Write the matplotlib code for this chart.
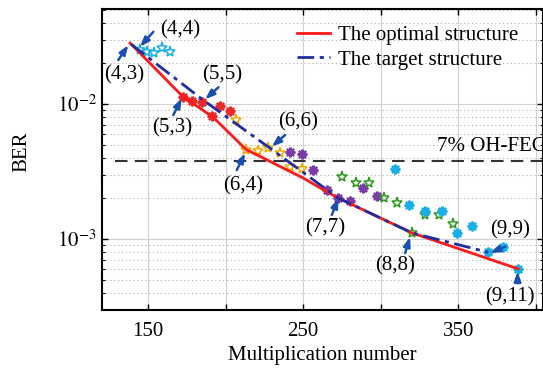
import matplotlib
matplotlib.use("Agg")
import matplotlib.pyplot as plt
import numpy as np

plt.rcParams['font.family'] = ['Liberation Serif', 'DejaVu Serif']
plt.rcParams['mathtext.fontset'] = 'stix'

# ---- data ----
opt_x = [138.4, 172.6, 191.9, 213.2, 226.8, 239.7, 250.0, 261.0, 272.6, 320.3, 388.7]
opt_y = [2.83e-2, 1.13e-2, 8.0e-3, 4.6e-3, 3.85e-3, 3.24e-3, 2.83e-3, 2.39e-3, 2.01e-3, 1.107e-3, 6.0e-4]

tgt_x = [139.0, 185.5, 228.7, 272.6, 320.3, 369.4]
tgt_y = [2.78e-2, 1.07e-2, 4.70e-3, 2.01e-3, 1.107e-3, 7.96e-4]

m4_x = [144.8, 149.4, 153.9, 159.0, 164.2]
m4_y = [2.51e-2, 2.41e-2, 2.39e-2, 2.60e-2, 2.44e-2]

m5_x = [172.6, 178.4, 184.8, 191.3, 196.5, 202.9]
m5_y = [1.13e-2, 1.05e-2, 1.03e-2, 8.15e-3, 9.67e-3, 8.87e-3]

m6_x = [206.8, 213.2, 221.0, 227.4, 235.2, 241.6, 249.4]
m6_y = [7.60e-3, 4.60e-3, 4.49e-3, 4.68e-3, 4.34e-3, 3.39e-3, 3.30e-3]

m7_x = [241.6, 249.4, 256.5, 265.5, 272.6, 280.3, 288.7, 297.7]
m7_y = [4.41e-3, 4.26e-3, 3.22e-3, 2.31e-3, 2.01e-3, 1.90e-3, 2.37e-3, 2.08e-3]

m8_x = [275.2, 284.2, 292.6, 302.3, 310.6, 328.7, 337.7, 346.8, 320.3]
m8_y = [2.89e-3, 2.61e-3, 2.59e-3, 2.00e-3, 1.86e-3, 1.51e-3, 1.51e-3, 1.30e-3, 1.107e-3]

m9_x = [309.4, 318.4, 328.7, 339.7, 349.4, 359.0, 369.4, 379.0, 388.7]
m9_y = [3.28e-3, 1.79e-3, 1.60e-3, 1.61e-3, 1.10e-3, 1.25e-3, 7.96e-4, 8.73e-4, 6.0e-4]

fec_level = 3.8e-3
fec_label = "7% OH-FEC"

# annotations: label, text position, arrow tail, arrow head (data coords)
ann_labels = ["(4,4)", "(4,3)", "(5,5)", "(5,3)", "(6,6)", "(6,4)", "(7,7)", "(8,8)", "(9,9)", "(9,11)"]
ann_text = [(170.6, 3.53e-2), (134.5, 1.64e-2), (197.5, 1.64e-2), (165.8, 6.6e-3), (246.5, 7.39e-3),
            (211.6, 2.47e-3), (264.2, 1.21e-3), (309.4, 6.31e-4), (383.5, 1.17e-3), (383.5, 3.74e-4)]
ann_tail = [(153.4, 3.43e-2), (130.8, 2.12e-2), (195.4, 1.33e-2), (166.3, 8.29e-3), (238.4, 5.89e-3),
            (207.2, 3.24e-3), (268.5, 1.507e-3), (315.8, 7.87e-4), (380.3, 8.77e-4), (388.3, 4.7e-4)]
ann_head = [(144.8, 2.656e-2), (137.3, 2.735e-2), (186.8, 1.083e-2), (171.7, 1.102e-2), (229.8, 4.83e-3),
            (212.6, 4.32e-3), (272.8, 2.0e-3), (319.0, 1.035e-3), (370.6, 7.87e-4), (388.3, 5.73e-4)]

# ---- figure ----
fig = plt.figure(figsize=(5.43, 3.68), dpi=100)
ax = fig.add_axes([0.187, 0.158, 0.813, 0.8175])
ax.set_yscale('log')
ax.set_xlim(120, 404.7)
ax.set_ylim(2.98e-4, 5.06e-2)

ax.set_xticks([150, 200, 250, 300, 350, 400])
ax.set_xticklabels(['150', '', '250', '', '350', ''])
ax.set_yticks([1e-3, 1e-2])
ax.set_yticklabels([r'$10^{-3}$', r'$10^{-2}$'])
ax.yaxis.set_minor_locator(matplotlib.ticker.LogLocator(base=10, subs=np.arange(2, 10)))
ax.yaxis.set_minor_formatter(matplotlib.ticker.NullFormatter())
ax.tick_params(which='both', direction='in', top=True, right=True, labelsize=15)
ax.tick_params(which='major', length=4, width=1)
ax.tick_params(axis='x', which='major', pad=8.5)
ax.tick_params(which='minor', length=2.5, width=0.8)
ax.grid(True, which='major', color='#d0d0d0', lw=0.8, ls='-')
ax.grid(True, which='minor', axis='y', color='#b0b0b0', lw=0.8, ls=(0, (1, 2.5)))
ax.set_axisbelow(True)
for s in ax.spines.values():
    s.set_linewidth(1.5)

ax.set_xlabel("Multiplication number", fontsize=15, labelpad=4)
ax.set_ylabel("BER", fontsize=15)
ax.yaxis.set_label_coords(-0.158, 0.525)

ax.plot([128.5, 404.7], [fec_level, fec_level], color='#333333', lw=1.5, ls=(0, (6, 3.5)), zorder=2)
ax.text(336.3, 4.12e-3, fec_label, fontsize=15, ha='left', va='bottom', clip_on=False)

ast = (8, 2, 0)
ax.plot(m4_x, m4_y, ls='none', marker='*', ms=8, mfc='none', mec='#18aee6', mew=1.1, zorder=3)
ax.plot(m5_x, m5_y, ls='none', marker=ast, ms=7, mec='#e52b2b', mew=1.6, zorder=3)
ax.plot(m6_x, m6_y, ls='none', marker='*', ms=8, mfc='none', mec='#f2a900', mew=1.1, zorder=3)
ax.plot(m7_x, m7_y, ls='none', marker=ast, ms=7, mec='#7a3aa8', mew=1.6, zorder=3)
ax.plot(m8_x, m8_y, ls='none', marker='*', ms=8, mfc='none', mec='#2e9a1e', mew=1.1, zorder=3)
ax.plot(m9_x, m9_y, ls='none', marker=ast, ms=7, mec='#18aee6', mew=1.6, zorder=3)

ax.plot(opt_x, opt_y, color='#ff1a1a', lw=2, label='The optimal structure', zorder=4)
ax.plot(tgt_x, tgt_y, color='#1f2e9e', lw=2, ls=(0, (6, 2, 1.5, 2)), label='The target structure', zorder=5)

arrow_col = '#1a4fb0'
for lab, tp, tl, hd in zip(ann_labels, ann_text, ann_tail, ann_head):
    ax.annotate('', xy=hd, xytext=tl,
                arrowprops=dict(arrowstyle='-|>,head_length=0.55,head_width=0.2', color=arrow_col, lw=1.8,
                                shrinkA=0, shrinkB=0), zorder=6, annotation_clip=False)
    ax.text(tp[0], tp[1], lab, fontsize=15, ha='center', va='center', zorder=7, clip_on=False)

leg = ax.legend(loc='upper left', bbox_to_anchor=(0.425, 0.972), frameon=False, fontsize=15,
                handlelength=1.55, handletextpad=0.4, labelspacing=0.22, borderaxespad=0)

fig.savefig('out.png', dpi=100)
